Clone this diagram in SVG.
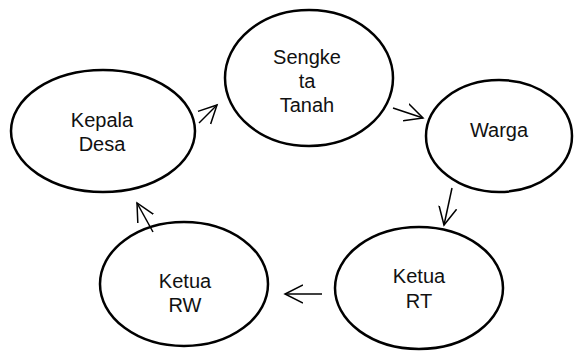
<svg xmlns="http://www.w3.org/2000/svg" width="583" height="352" viewBox="0 0 583 352">
<defs>
<style>
.node ellipse{fill:#fff;stroke:#000;stroke-width:2.5}
.node text{font-family:"Liberation Sans",Arial,sans-serif;font-size:20px;fill:#111;text-anchor:middle}
.conn line{stroke:#000;stroke-width:1.5;marker-end:url(#ah)}
</style>
<marker id="ah" markerUnits="userSpaceOnUse" markerWidth="22" markerHeight="22" refX="18" refY="10" orient="auto" viewBox="0 0 22 20">
<path d="M0,1 L18,10 L0,19" fill="none" stroke="#000" stroke-width="1.5"/>
</marker>
</defs>
<rect width="583" height="352" fill="#fff"/>
<g id="kepala-desa" class="node">
<ellipse cx="103" cy="131" rx="92" ry="61"/>
<text x="102" y="127">Kepala</text>
<text x="102" y="151">Desa</text>
</g>
<g id="sengketa-tanah" class="node">
<ellipse cx="309" cy="78" rx="84" ry="68"/>
<text x="307" y="64">Sengke</text>
<text x="307" y="88">ta</text>
<text x="307" y="112">Tanah</text>
</g>
<g id="warga" class="node">
<ellipse cx="499" cy="136" rx="73" ry="56"/>
<text x="499" y="137">Warga</text>
</g>
<g id="ketua-rt" class="node">
<ellipse cx="419" cy="288" rx="84" ry="61"/>
<text x="419" y="283">Ketua</text>
<text x="419" y="308">RT</text>
</g>
<g id="ketua-rw" class="node">
<ellipse cx="184" cy="284" rx="84" ry="62"/>
<text x="185" y="288">Ketua</text>
<text x="185" y="312">RW</text>
</g>
<g id="connectors" class="conn">
<line x1="199" y1="123" x2="217" y2="105"/>
<line x1="393" y1="108" x2="423" y2="118"/>
<line x1="452" y1="188" x2="444" y2="225"/>
<line x1="322" y1="294" x2="285" y2="294"/>
<line x1="153" y1="232" x2="137" y2="203"/>
</g>
</svg>
